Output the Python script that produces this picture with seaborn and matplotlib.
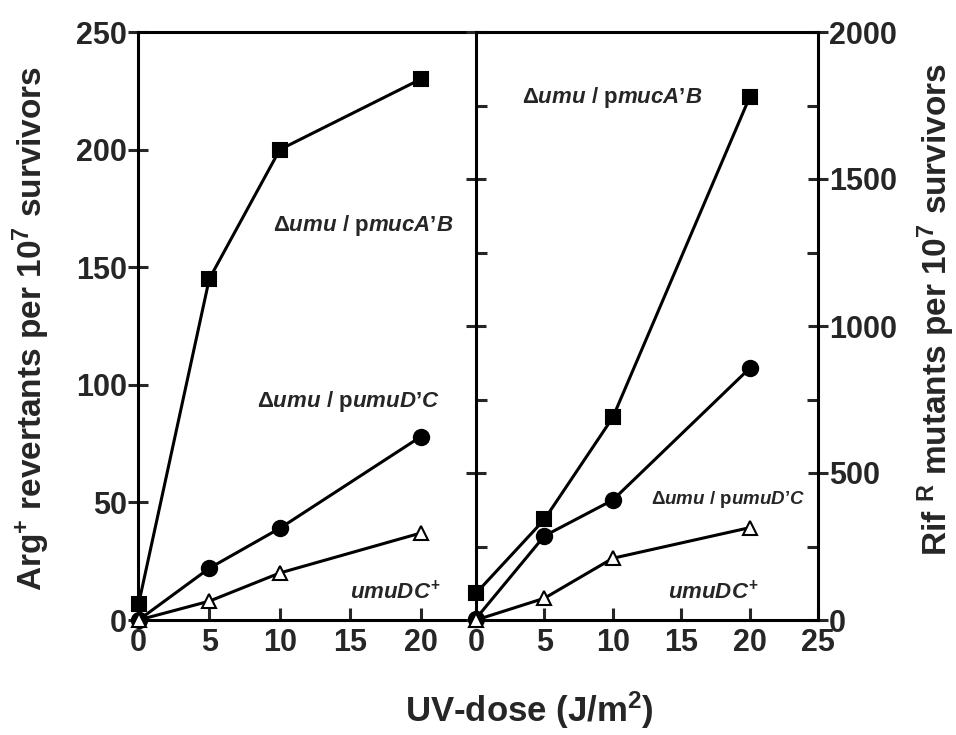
import matplotlib
matplotlib.use("Agg")
import matplotlib.pyplot as plt
import seaborn as sns
import pandas as pd
from matplotlib.ticker import MultipleLocator

sns.set_theme(style="white")
plt.rcParams['font.family'] = ['Liberation Sans', 'DejaVu Sans']
plt.rcParams['font.weight'] = 'bold'
plt.rcParams['mathtext.fontset'] = 'custom'
plt.rcParams['mathtext.rm'] = 'Liberation Sans:bold'
plt.rcParams['mathtext.bf'] = 'Liberation Sans:bold'
plt.rcParams['mathtext.sf'] = 'Liberation Sans:bold'
plt.rcParams['mathtext.it'] = 'Liberation Sans:italic:bold'

# ---- data ----
dose = [0, 5, 10, 20]
# Arg+ revertants per 1e7 survivors (left panel)
arg_mucAB = [7, 145, 200, 230]
arg_umuDC_prime = [0, 22, 39, 78]
arg_umuDC_plus = [0, 8, 20, 37]
# RifR mutants per 1e7 survivors (right panel)
rif_mucAB = [91, 342, 689, 1778]
rif_umuDC_prime = [5, 286, 408, 856]
rif_umuDC_plus = [0, 74, 210, 314]

series_names = ["mucA'B", "umuD'C", "umuDC+"]
markers = {"mucA'B": "s", "umuD'C": "o", "umuDC+": "^"}
faces = {"mucA'B": "black", "umuD'C": "black", "umuDC+": "white"}

left_df = pd.DataFrame({
    "dose": dose * 3,
    "value": arg_mucAB + arg_umuDC_prime + arg_umuDC_plus,
    "strain": [s for s in series_names for _ in dose],
})
right_df = pd.DataFrame({
    "dose": dose * 3,
    "value": rif_mucAB + rif_umuDC_prime + rif_umuDC_plus,
    "strain": [s for s in series_names for _ in dose],
})

fig = plt.figure(figsize=(9.56, 7.35), dpi=100)
W, H = 956, 735
def rect(x0, x1, y0, y1):
    return [x0 / W, 1 - y1 / H, (x1 - x0) / W, (y1 - y0) / H]

axL = fig.add_axes(rect(138, 476, 32, 620))
axR = fig.add_axes(rect(476, 818, 32, 620))

LW = 2.2
for ax, df in [(axL, left_df), (axR, right_df)]:
    for name in series_names:
        sub = df[df["strain"] == name]
        sns.lineplot(data=sub, x="dose", y="value", ax=ax, color="black",
                     linewidth=2.2, marker=markers[name],
                     markersize=10 if name != "umuD'C" else 11,
                     markerfacecolor=faces[name], markeredgecolor="black",
                     markeredgewidth=1.5, clip_on=False, zorder=5, legend=False)
    ax.set_xlabel("")
    ax.set_ylabel("")
    for sp in ax.spines.values():
        sp.set_linewidth(LW)
        sp.set_color("black")

TS = 22
# left axes
axL.set_xlim(-0.05, 23.9)
axL.set_ylim(0, 250)
axL.spines['right'].set_visible(False)
axL.set_xticks([0, 5, 10, 15, 20])
axL.yaxis.set_major_locator(MultipleLocator(50))
axL.tick_params(axis='y', which='major', left=True, right=False, direction='inout',
                length=14, width=LW, labelsize=TS, pad=1)
axL.tick_params(axis='x', which='major', bottom=True, top=False, direction='in',
                length=9, width=LW, labelsize=TS, pad=6)

# right axes
axR.set_xlim(0, 25)
axR.set_ylim(0, 2000)
axR.set_xticks([0, 5, 10, 15, 20, 25])
axR.yaxis.set_major_locator(MultipleLocator(500))
axR.yaxis.set_minor_locator(MultipleLocator(250))
axR.tick_params(axis='y', which='both', left=True, right=True,
                labelleft=False, labelright=True, width=LW, labelsize=TS, pad=1)
axR.tick_params(axis='y', which='major', direction='inout', length=14)
axR.tick_params(axis='y', which='minor', direction='in', length=8)
axR.tick_params(axis='x', which='major', bottom=True, top=False, direction='in',
                length=9, width=LW, labelsize=TS, pad=6)
for lab in axL.get_xticklabels() + axL.get_yticklabels() + axR.get_xticklabels() + axR.get_yticklabels():
    lab.set_fontweight('bold')

# annotations
def put(xpix, ypix, s, fs=16):
    fig.text(xpix / W, 1 - ypix / H, s, fontsize=fs, fontweight='bold', va='center', ha='left')

lab_muc = "$\\Delta\\mathit{umu}$ $\\mathit{/}$ p$\\mathit{mucA\u2019B}$"
lab_umu = "$\\Delta\\mathit{umu}$ $\\mathit{/}$ p$\\mathit{umuD\u2019C}$"
lab_wt = "$\\mathit{umuDC}^{+}$"
put(273, 225, lab_muc)
put(257, 402, lab_umu)
put(350, 592, lab_wt)
put(522, 98, lab_muc)
put(651, 500, lab_umu, fs=13.5)
put(668, 592, lab_wt)

# axis labels
fig.text(31 / W, 1 - 328 / H, r"Arg$^{+}$ revertants per 10$^{7}$ survivors",
         rotation=90, ha='center', va='center', fontsize=24, fontweight='bold')
fig.text(936 / W, 1 - 310 / H, r"Rif $^{\mathrm{R}}$ mutants per 10$^{7}$ survivors",
         rotation=90, ha='center', va='center', fontsize=24, fontweight='bold')
fig.text(529 / W, 1 - 710 / H, r"UV-dose (J/m$^{2}$)",
         ha='center', va='center', fontsize=25, fontweight='bold')

fig.savefig("out.png", dpi=100, facecolor="white")
